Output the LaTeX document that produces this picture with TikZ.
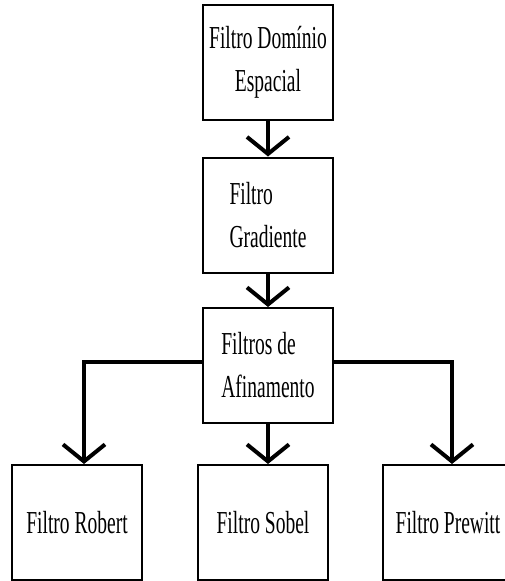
\documentclass[tikz,border=0pt]{standalone}
\usepackage{fontspec}
\setmainfont{Liberation Serif}[FakeStretch=0.61]
\usetikzlibrary{arrows.meta}

\begin{document}
\begin{tikzpicture}[x=1pt, y=-1pt,
    caixa/.style={draw, line width=2pt, minimum width=130pt, minimum height=115pt,
      inner sep=0pt, font=\fontsize{32}{43}\selectfont},
    seta/.style={line width=4.5pt,
      -{Straight Barb[length=17pt, width=42pt, line width=4pt]}}]
  \useasboundingbox (0,0) rectangle (504,581);
  \node[caixa, align=center] (esp) at (268,62.5) {Filtro Domínio\\Espacial};
  \node[caixa, align=left] (grad) at (268,215) {Filtro\\Gradiente};
  \node[caixa, align=left] (afin) at (268,365.5) {Filtros de\\Afinamento};
  \node[caixa] (robert) at (77,522.5) {Filtro Robert};
  \node[caixa] (sobel) at (263,522.5) {Filtro Sobel};
  \node[caixa] (prewitt) at (448,522.5) {Filtro Prewitt};
  \draw[seta] (esp) -- (grad);
  \draw[seta] (grad) -- (afin);
  \draw[seta] (afin.south) -- (afin.south |- sobel.north);
  \draw[seta] ([yshift=3.5pt]afin.west) -| ([xshift=7pt]robert.north);
  \draw[seta] ([yshift=3.5pt]afin.east) -| ([xshift=4pt]prewitt.north);
\end{tikzpicture}
\end{document}
